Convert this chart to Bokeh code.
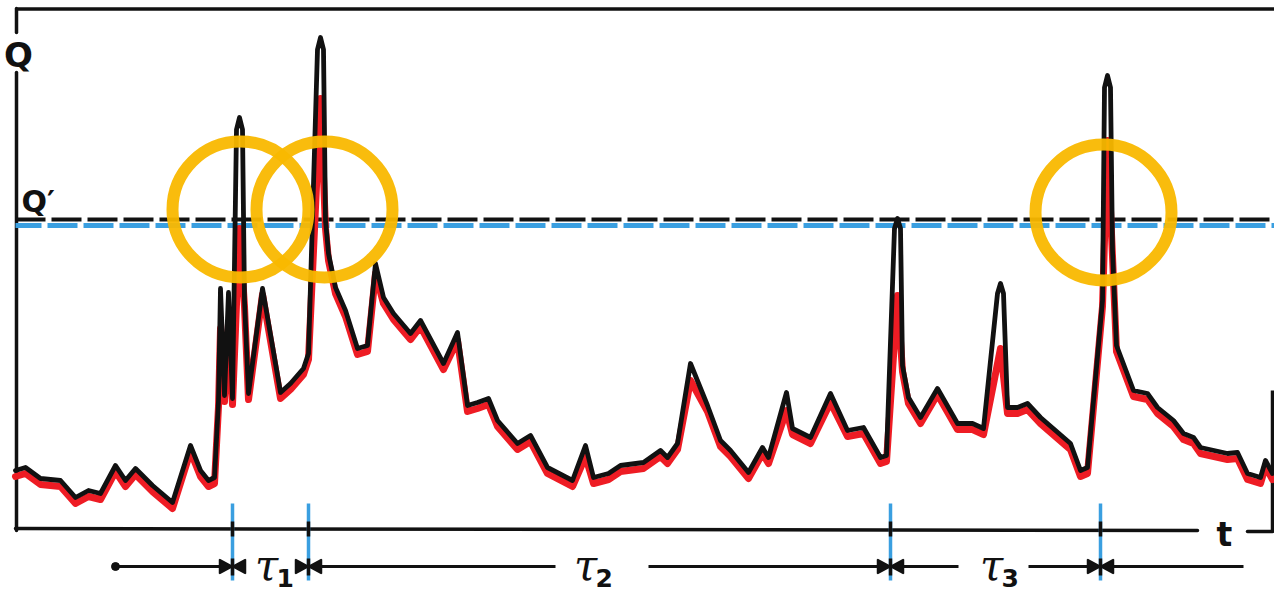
from bokeh.plotting import figure
from bokeh.models import Range1d
from bokeh.core.properties import value
from bokeh.embed import file_html
from bokeh.resources import INLINE

# ---------------- data ----------------
# observed hydrograph (black): time t and discharge Q (arbitrary units)
t_obs = [0, 10, 25, 45, 60, 73, 85, 100, 110, 120,
         137, 157, 175, 185, 193, 199, 203, 205, 209, 213,
         217, 221, 224, 227, 229, 233, 247, 265, 275, 288,
         293, 302, 305, 308, 310, 313, 320, 330, 342, 352,
         360, 368, 378, 395, 405, 428, 442, 452, 462, 473,
         482, 502, 515, 532, 557, 570, 578, 593, 605, 628,
         645, 652, 662, 675, 692, 705, 715, 733, 747, 753,
         771, 777, 795, 815, 832, 848, 865, 871, 879, 882,
         885, 887, 893, 905, 922, 942, 957, 968, 982, 985,
         988, 992, 1002, 1012, 1025, 1055, 1065, 1072, 1087, 1089,
         1092, 1095, 1097, 1101, 1118, 1132, 1142, 1158, 1168, 1178,
         1185, 1212, 1222, 1232, 1245, 1250, 1257]
q_obs = [58, 61, 50, 48, 31, 38, 35, 63, 48, 60,
         43, 26, 83, 58, 48, 51, 128, 240, 133, 236,
         130, 399, 411, 399, 228, 135, 240, 136, 145, 160,
         175, 479, 491, 479, 308, 275, 241, 218, 180, 183,
         265, 231, 215, 195, 208, 165, 196, 123, 126, 130,
         108, 85, 93, 61, 48, 83, 51, 55, 63, 66,
         78, 71, 85, 165, 123, 88, 78, 56, 81, 71,
         136, 100, 91, 135, 98, 101, 71, 73, 300, 310,
         300, 163, 131, 111, 140, 105, 105, 100, 235, 245,
         235, 121, 121, 125, 111, 85, 58, 61, 228, 441,
         453, 441, 278, 183, 138, 135, 121, 108, 95, 91,
         81, 75, 76, 55, 51, 68, 55]
# simulated hydrograph (red)
t_sim = [0, 10, 25, 45, 60, 73, 85, 100, 110, 120,
         137, 157, 175, 185, 193, 199, 203, 205, 209, 213,
         217, 224, 229, 233, 247, 265, 275, 288, 293, 305,
         310, 313, 320, 330, 342, 352, 360, 368, 378, 395,
         405, 428, 442, 452, 462, 473, 482, 502, 515, 532,
         557, 570, 578, 593, 605, 628, 645, 652, 662, 675,
         692, 705, 715, 733, 747, 753, 771, 777, 795, 815,
         832, 848, 865, 871, 882, 887, 893, 905, 922, 942,
         957, 968, 985, 992, 1002, 1012, 1025, 1055, 1065, 1072,
         1087, 1092, 1097, 1101, 1118, 1132, 1142, 1158, 1168, 1178,
         1185, 1212, 1222, 1232, 1245, 1250, 1257]
q_sim = [52, 55, 44, 42, 25, 32, 29, 57, 42, 54,
         37, 20, 77, 52, 42, 45, 122, 200, 127, 205,
         124, 300, 222, 129, 234, 130, 139, 154, 169, 430,
         300, 268, 235, 212, 174, 177, 255, 225, 209, 189,
         202, 159, 188, 117, 120, 124, 102, 79, 87, 55,
         42, 72, 45, 49, 57, 60, 72, 65, 79, 148,
         117, 82, 72, 50, 75, 65, 118, 94, 85, 126,
         92, 95, 65, 67, 233, 157, 125, 105, 134, 99,
         99, 94, 180, 115, 115, 119, 105, 79, 52, 55,
         222, 388, 272, 177, 132, 129, 115, 102, 89, 85,
         75, 69, 70, 49, 45, 62, 49]

q_threshold = 306                      # Q'
crossing_t = [217, 293, 875, 1085]     # times where peaks cross Q'
circle_t = [225, 309, 1088]            # highlighted crossings
circle_q = [319, 319, 316]
interval_labels = ["τ", "τ", "τ"]
interval_subs = ["1", "2", "3"]
interval_label_t = [251, 570, 976]

# ---------------- figure ----------------
W, H = 1274, 596
p = figure(width=W, height=H, output_backend="svg", toolbar_location=None,
           x_range=Range1d(-15, 1259), y_range=Range1d(-68, 528),
           x_axis_type=None, y_axis_type=None, min_border=0)
p.grid.visible = False
p.outline_line_color = None
p.background_fill_color = "white"

BLACK = "#111111"
RED = "#EE1C24"
BLUE = "#3A9FE0"
GOLD = "#F9B800"

# frame: top border, Q axis (broken for label), t axis (broken for label), right stub
p.segment(x0=[2], y0=[519.5], x1=[1259], y1=[519.5], line_color=BLACK, line_width=3.5)
p.segment(x0=[1, 1], y0=[520, 456], x1=[1, 1], y1=[496, -2], line_color=BLACK,
          line_width=3.5, line_cap="round")
p.segment(x0=[0, 1232], y0=[0, -3], x1=[1182, 1257], y1=[-2, -3], line_color=BLACK,
          line_width=3.5, line_cap="round")
p.segment(x0=[1257], y0=[138], x1=[1257], y1=[-4], line_color=BLACK, line_width=3.5)

# threshold Q' (black dashes over light-blue dashes)
p.segment(x0=[0], y0=[q_threshold - 3], x1=[1259], y1=[q_threshold - 3],
          line_color=BLUE, line_width=5, line_dash="30 6", line_dash_offset=4)
p.segment(x0=[0], y0=[q_threshold + 3], x1=[1259], y1=[q_threshold + 3],
          line_color=BLACK, line_width=4, line_dash="30 6")

# hydrographs
p.line(t_sim, q_sim, line_color=RED, line_width=7, line_join="round", line_cap="round")
p.line(t_obs, q_obs, line_color=BLACK, line_width=4.8, line_join="round", line_cap="round")

# crossing ticks (blue, black where they cross lines)
n = len(crossing_t)
p.segment(x0=crossing_t, y0=[25] * n, x1=crossing_t, y1=[-52] * n,
          line_color=BLUE, line_width=3.5)
p.segment(x0=crossing_t, y0=[7] * n, x1=crossing_t, y1=[-8] * n,
          line_color=BLACK, line_width=3.5)

# dimension line with arrowheads pointing at the ticks
A = -38
pieces = [(100, 217), (293, 540), (633, 875), (875, 943), (1013, 1085), (1085, 1228)]
p.segment(x0=[a for a, b in pieces], y0=[A] * len(pieces),
          x1=[b for a, b in pieces], y1=[A] * len(pieces),
          line_color=BLACK, line_width=3)
p.scatter([100], [A], size=8, color=BLACK)
hx, hy = [], []
for T in crossing_t:
    hx.append([T, T - 13, T - 13]); hy.append([A, A + 7, A - 7])
    hx.append([T, T + 13, T + 13]); hy.append([A, A + 7, A - 7])
p.patches(hx, hy, fill_color=BLACK, line_color=BLACK, line_width=1.5)
p.segment(x0=crossing_t, y0=[-30] * n, x1=crossing_t, y1=[-47] * n,
          line_color=BLACK, line_width=3.5)

# highlight rings
p.circle(x=circle_t, y=circle_q, radius=68, fill_color=None,
         line_color=GOLD, line_width=12, line_alpha=0.95)

# labels
p.text(x=[3], y=[474], text=["Q"], text_font=value("DejaVu Sans"),
       text_font_style=value("bold"), text_font_size=value("34px"),
       text_align=value("center"), text_baseline=value("alphabetic"), text_color=BLACK)
p.text(x=[6], y=[327], text=["Q′"], text_font=value("DejaVu Sans"),
       text_font_style=value("bold"), text_font_size=value("30px"),
       text_align=value("left"), text_baseline=value("alphabetic"), text_color=BLACK)
p.text(x=[1209], y=[-6], text=["t"], text_font=value("DejaVu Sans"),
       text_font_style=value("bold"), text_font_size=value("33px"),
       text_align=value("center"), text_baseline=value("alphabetic"), text_color=BLACK)
p.text(x=interval_label_t, y=[-37] * 3, text=interval_labels,
       text_font=value("DejaVu Serif"), text_font_style=value("italic"),
       text_font_size=value("42px"), text_align=value("center"),
       text_baseline=value("alphabetic"), text_color=BLACK)
p.text(x=[v + 10 for v in interval_label_t], y=[-49] * 3, text=interval_subs,
       text_font=value("DejaVu Sans"), text_font_style=value("bold"),
       text_font_size=value("25px"), text_align=value("left"),
       text_baseline=value("alphabetic"), text_color=BLACK)

open("out.html", "w").write(file_html(p, INLINE))
